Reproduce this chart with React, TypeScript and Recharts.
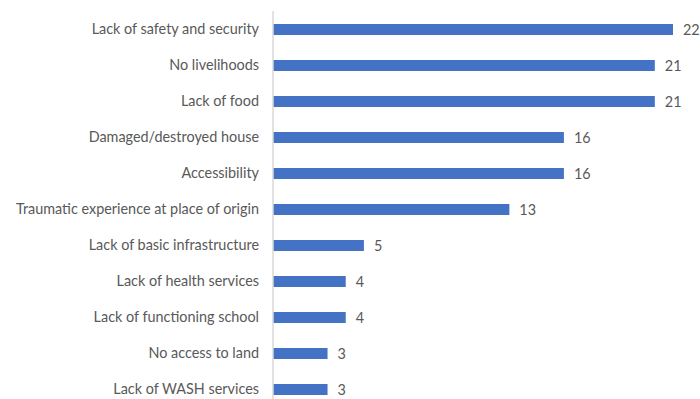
import React from "react";
import { BarChart, Bar, XAxis, YAxis, LabelList } from "recharts";

const categories = [
  "Lack of safety and security",
  "No livelihoods",
  "Lack of food",
  "Damaged/destroyed house",
  "Accessibility",
  "Traumatic experience at place of origin",
  "Lack of basic infrastructure",
  "Lack of health services",
  "Lack of functioning school",
  "No access to land",
  "Lack of WASH services",
];
const values = [22, 21, 21, 16, 16, 13, 5, 4, 4, 3, 3];

const data = categories.map((name, i) => ({ name, value: values[i] }));

const FONT = "Lato, 'Open Sans', sans-serif";

export default function App() {
  return (
    <div style={{ position: "absolute", left: 0, top: 0, width: 700, height: 399, overflow: "hidden", background: "#fff" }}>
      <BarChart
        width={700}
        height={410}
        data={data}
        layout="vertical"
        margin={{ top: 11, right: 27, bottom: 3, left: 0 }}
        barSize={11}
      >
        <XAxis type="number" domain={[0, 22]} hide />
        <YAxis
          type="category"
          dataKey="name"
          width={273}
          tickLine={false}
          tickSize={0}
          tickMargin={14}
          axisLine={{ stroke: "#d9d9d9", strokeWidth: 1.5 }}
          tick={{ fill: "#595959", fontSize: 14.4, fontFamily: FONT }}
          interval={0}
        />
        <Bar dataKey="value" fill="#4472C4" isAnimationActive={false}>
          <LabelList
            dataKey="value"
            position="right"
            offset={10}
            style={{ fill: "#595959", fontSize: 14.4, fontFamily: FONT }}
          />
        </Bar>
      </BarChart>
    </div>
  );
}
